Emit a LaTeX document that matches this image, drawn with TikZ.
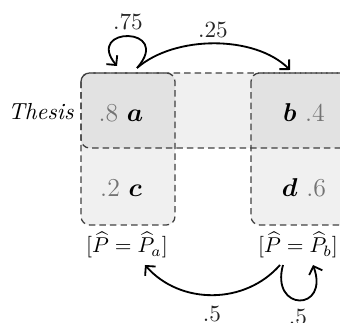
\documentclass[tikz,border=0pt]{standalone}
\usepackage{bm}
\usetikzlibrary{arrows.meta}
\tikzset{
  region/.style={draw=black!75, line width=0.6pt, dash pattern=on 3pt off 1.9pt,
    rounded corners=4pt, fill=black, fill opacity=0.06, text opacity=1},
  cell/.style={inner sep=0pt, text=black, font=\large},
  rowlbl/.style={inner sep=0pt, font=\fontsize{10.8}{13}\selectfont},
  edgelbl/.style={inner sep=0pt, text=black!85, font=\fontsize{10.8}{13}\selectfont},
  arr/.style={line width=0.85pt, -{Straight Barb[length=3.2pt,width=6.5pt]}},
  hatlbl/.style={inner sep=0pt}
}
\begin{document}
\begin{tikzpicture}[x=0.465pt,y=-0.465pt]
\useasboundingbox (0,0) rectangle (340,323);
\clip (0,0) rectangle (340,323);
% regions
\draw[region] (81,73) rectangle (350,148);
\draw[region] (81,73) rectangle (175,225);
\draw[region] (251,73) rectangle (350,225);
% row label
\node[rowlbl] (thesis) at (41,112) {\textit{Thesis}};
% cells
\node[cell] (a) at (121,113) {{\color{black!55}.8}\hspace{4pt}$\bm{a}$};
\node[cell] (b) at (304,113) {$\bm{b}$\hspace{4pt}{\color{black!55}.4}};
\node[cell] (c) at (121,188) {{\color{black!55}.2}\hspace{4pt}$\bm{c}$};
\node[cell] (d) at (304,188) {$\bm{d}$\hspace{4pt}{\color{black!55}.6}};
% column labels
\node[hatlbl] (pa) at (127,245) {$[\widehat{P}=\widehat{P}_a]$};
\node[hatlbl] (pb) at (298,245) {$[\widehat{P}=\widehat{P}_b]$};
% anchor points of connectors
\coordinate (aout) at (137,68);
\coordinate (ain) at (117,66);
\coordinate (bin) at (290,70);
\coordinate (bout) at (280,265);
\coordinate (bloopout) at (283,265);
\coordinate (bloopin) at (313,265);
\coordinate (pain) at (145,265);
% connectors
\draw[arr] (aout) .. controls (174,26) and (84,26) .. (ain);
\draw[arr] (aout) .. controls (175,35) and (255,35) .. (bin);
\draw[arr] (bout) .. controls (245,305) and (180,305) .. (pain);
\draw[arr] (bloopout) .. controls (270,312) and (330,312) .. (bloopin);
% connector labels
\node[edgelbl] (l75) at (128,22) {.75};
\node[edgelbl] (l25) at (213,30) {.25};
\node[edgelbl] (l5a) at (212,314) {.5};
\node[edgelbl] (l5b) at (298,317) {.5};
\end{tikzpicture}
\end{document}
